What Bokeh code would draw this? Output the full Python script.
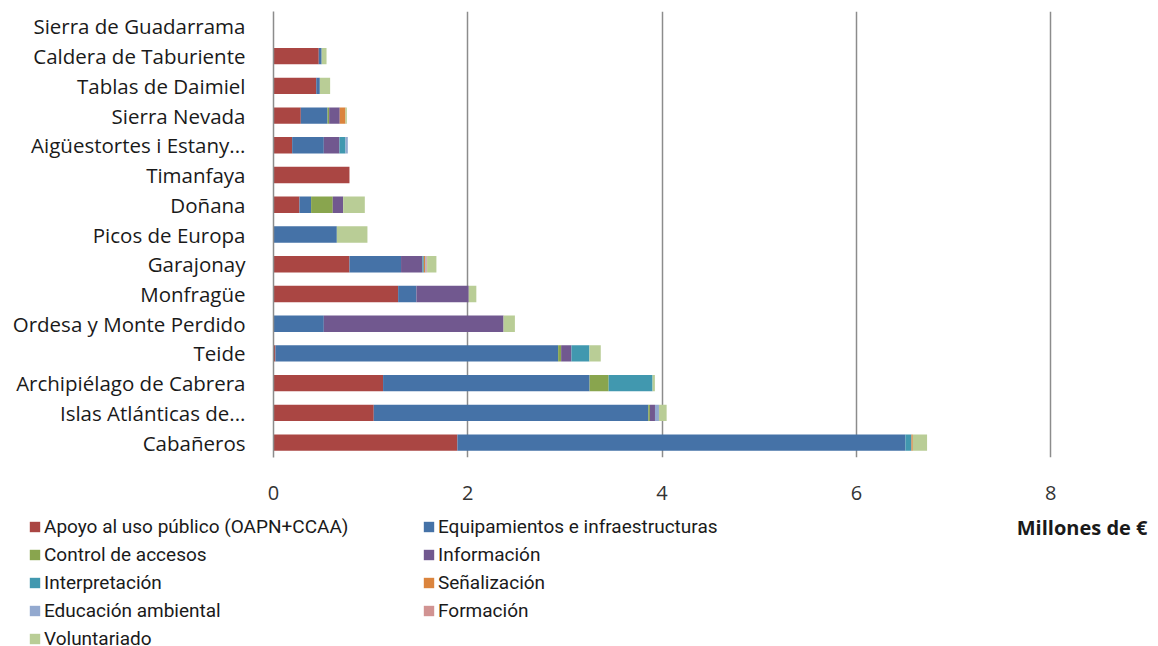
from bokeh.plotting import figure
from bokeh.models import (ColumnDataSource, FactorRange, Range1d, FixedTicker,
                          Legend, LegendItem, Label)
from bokeh.embed import file_html
from bokeh.resources import INLINE

parks = ["Sierra de Guadarrama", "Caldera de Taburiente", "Tablas de Daimiel",
         "Sierra Nevada", "Aigüestortes i Estany...", "Timanfaya", "Doñana",
         "Picos de Europa", "Garajonay", "Monfragüe", "Ordesa y Monte Perdido",
         "Teide", "Archipiélago de Cabrera", "Islas Atlánticas de...", "Cabañeros"]

apoyo = [0, 0.466, 0.44, 0.281, 0.192, 0.782, 0.267, 0, 0.782, 1.283, 0, 0.02, 1.128, 1.032, 1.893]
equipamientos = [0, 0.03, 0.037, 0.275, 0.326, 0, 0.12, 0.652, 0.531, 0.188, 0.518, 2.91, 2.126, 2.826, 4.612]
control = [0, 0, 0, 0.017, 0, 0, 0.223, 0, 0, 0, 0, 0.031, 0.196, 0.017, 0]
informacion = [0, 0, 0, 0.109, 0.161, 0, 0.107, 0, 0.22, 0.539, 1.85, 0.106, 0, 0.052, 0]
interpretacion = [0, 0, 0, 0, 0.062, 0, 0, 0, 0.014, 0, 0, 0.185, 0.452, 0, 0.062]
senalizacion = [0, 0, 0, 0.059, 0, 0, 0, 0, 0.017, 0, 0, 0, 0, 0, 0.014]
educacion = [0, 0, 0, 0, 0.024, 0, 0, 0, 0.01, 0, 0, 0, 0, 0.041, 0]
formacion = [0, 0, 0, 0, 0, 0, 0, 0, 0.007, 0, 0, 0, 0, 0, 0]
voluntariado = [0, 0.05, 0.106, 0.014, 0, 0, 0.223, 0.315, 0.096, 0.078, 0.117, 0.117, 0.024, 0.079, 0.147]

series_names = ["Apoyo al uso público (OAPN+CCAA)", "Equipamientos e infraestructuras",
                "Control de accesos", "Información", "Interpretación", "Señalización",
                "Educación ambiental", "Formación", "Voluntariado"]
series_keys = ["apoyo", "equip", "control", "info", "interp", "senal", "educ", "form", "volunt"]
colors = ["#AA4643", "#4572A7", "#89A54E", "#71588F", "#4198AF", "#DB843D",
          "#93A9CF", "#D19392", "#B9CD96"]
x_ticks = [0, 2, 4, 6, 8]
x_label = "Millones de €"

source = ColumnDataSource(dict(
    park=parks, apoyo=apoyo, equip=equipamientos, control=control, info=informacion,
    interp=interpretacion, senal=senalizacion, educ=educacion, form=formacion,
    volunt=voluntariado))

FONT = "Open Sans"
LFONT = "Roboto"
W = 1150

p = figure(width=W, height=505, output_backend="svg", toolbar_location=None,
           y_range=FactorRange(factors=list(reversed(parks))),
           x_range=Range1d(0, 8.05),
           min_border_left=273, min_border_right=95, min_border_top=11,
           min_border_bottom=48)
p.outline_line_color = None

rs = p.hbar_stack(series_keys, y="park", height=0.55, color=colors,
                  line_color=None, source=source)

p.xaxis.ticker = FixedTicker(ticks=x_ticks)
p.xaxis.axis_line_color = None
p.xaxis.major_tick_line_color = None
p.xaxis.minor_tick_line_color = None
p.xaxis.major_label_standoff = 22
p.xaxis.major_label_text_font = FONT
p.xaxis.major_label_text_font_size = "20px"
p.xaxis.major_label_text_color = "#333333"

p.yaxis.axis_line_color = "#8c8c8c"
p.yaxis.axis_line_width = 1.5
p.yaxis.major_tick_line_color = None
p.yaxis.minor_tick_line_color = None
p.yaxis.major_label_standoff = 22
p.yaxis.major_label_text_font = FONT
p.yaxis.major_label_text_font_size = "20.5px"
p.yaxis.major_label_text_color = "#1a1a1a"

p.ygrid.grid_line_color = None
p.xgrid.ticker = FixedTicker(ticks=x_ticks)
p.xgrid.grid_line_color = "#8c8c8c"
p.xgrid.grid_line_width = 1.5

# legend panel below the chart (separate root, full-width frame)
H2 = 141
p2 = figure(width=W, height=H2, output_backend="svg", toolbar_location=None,
            x_range=Range1d(0, 1), y_range=FactorRange(factors=list(reversed(parks))),
            x_axis_location=None, y_axis_location=None,
            min_border_left=0, min_border_right=0, min_border_top=0, min_border_bottom=0)
p2.outline_line_color = None
p2.xgrid.grid_line_color = None
p2.ygrid.grid_line_color = None

swatches = p2.hbar_stack(series_keys, y="park", height=0.55, color=colors,
                         line_color=None, source=source)
for r in swatches:
    r.visible = False

ITEM_H = 23
GAP = 5
ROW1 = 21  # centre of first legend row, px from top of legend panel

def make_legend(idx, x):
    n = len(idx)
    height = n * ITEM_H + (n - 1) * GAP
    bottom = ROW1 - ITEM_H / 2 + height
    lg = Legend(items=[LegendItem(label=series_names[i], renderers=[swatches[i]]) for i in idx],
                location=(x, H2 - bottom), orientation="vertical")
    lg.border_line_color = None
    lg.background_fill_alpha = 0
    lg.padding = 0
    lg.margin = 0
    lg.spacing = GAP
    lg.label_height = ITEM_H
    lg.glyph_height = 13
    lg.glyph_width = 13
    lg.label_standoff = 3
    lg.label_text_font = LFONT
    lg.label_text_font_size = "19px"
    lg.label_text_color = "#1a1a1a"
    return lg

p2.add_layout(make_legend([0, 2, 4, 6, 8], 28))
p2.add_layout(make_legend([1, 3, 5, 7], 422))

p2.add_layout(Label(x=W - 3, y=H2 - 22, x_units="screen", y_units="screen", text=x_label,
                    text_align="right", text_baseline="middle", text_font=FONT,
                    text_font_size="20px", text_font_style="bold", text_color="#1a1a1a"))

open("out.html", "w").write(file_html([p, p2], INLINE))
